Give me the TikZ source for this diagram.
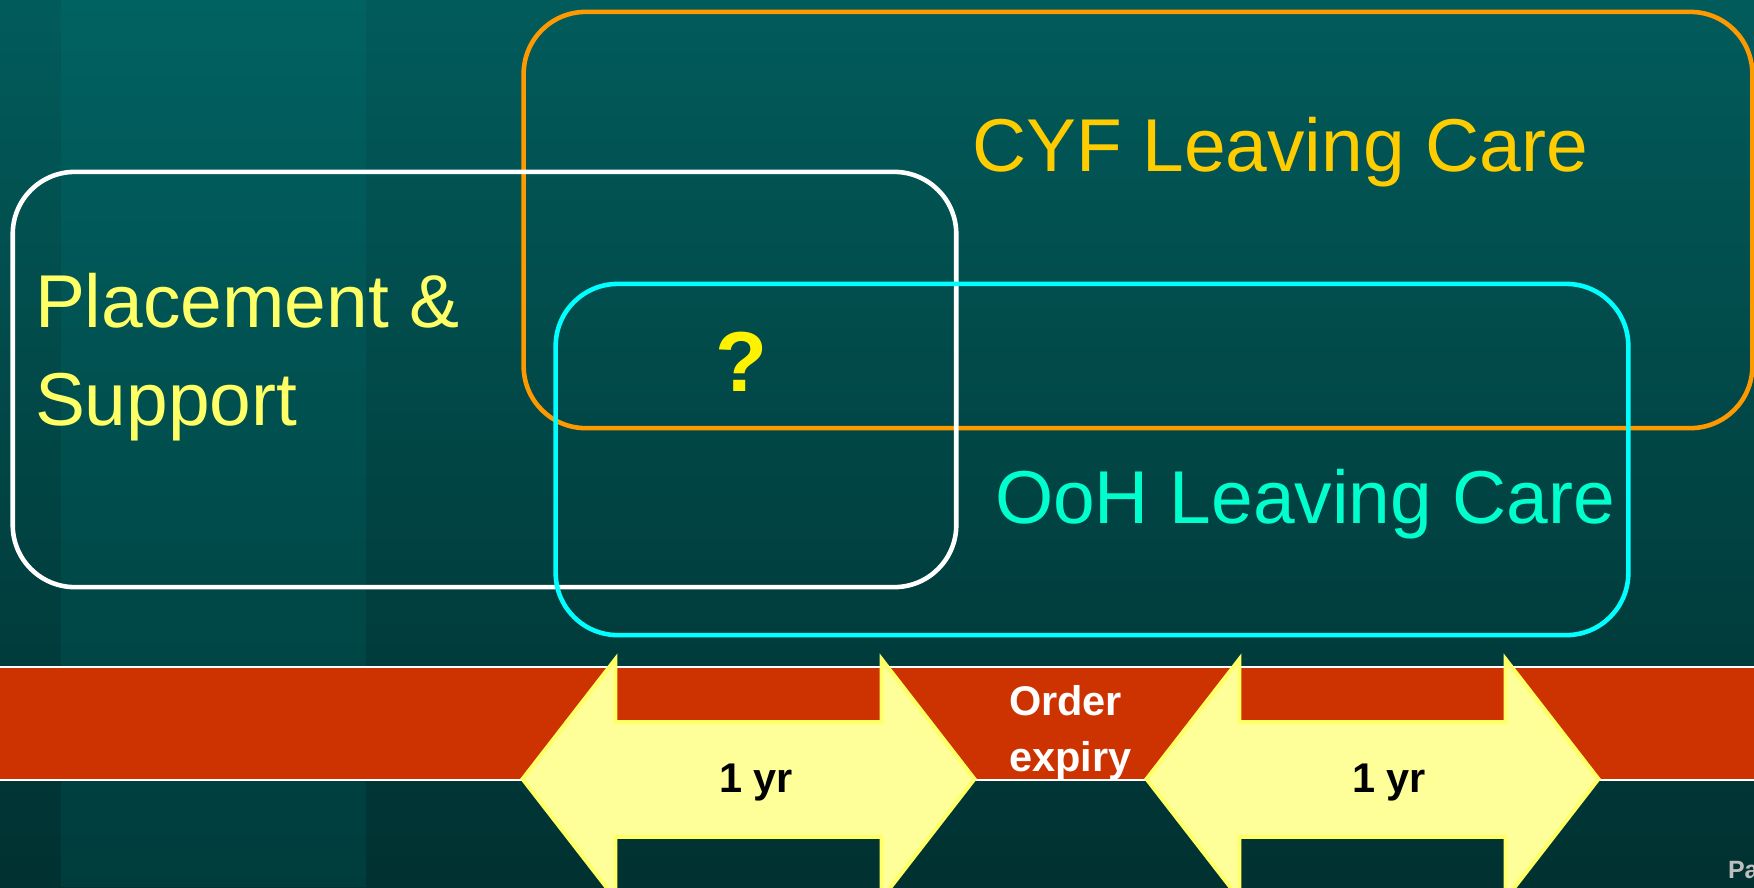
\documentclass[tikz,border=0pt]{standalone}
\usepackage{fontspec}
\setmainfont{Liberation Sans}
\usepackage{xcolor}
\usepackage{tikz}

\definecolor{bgtop}{HTML}{025B5B}
\definecolor{bgbot}{HTML}{013131}
\definecolor{bgstripe}{HTML}{00A0A0}
\definecolor{bandred}{HTML}{CC3300}
\definecolor{cyforange}{HTML}{FF9900}
\definecolor{cyftext}{HTML}{FFCC00}
\definecolor{oohcyan}{HTML}{00FFFF}
\definecolor{oohtext}{HTML}{00FFCC}
\definecolor{plctext}{HTML}{FFFF66}
\definecolor{yrfill}{HTML}{FFFF99}
\definecolor{yrline}{HTML}{FFFF66}

\begin{document}
\begin{tikzpicture}[
    x=0.01cm, y=-0.01cm,
    every node/.style={inner sep=0pt, outer sep=0pt},
    carebox/.style={draw, line width=1.3pt, rounded corners=0.62cm},
    bigtext/.style={anchor=base west, font=\fontsize{21.3}{25}\selectfont},
    smallbold/.style={anchor=base west, font=\fontsize{11.8}{14}\selectfont\bfseries}
]

% Background with lighter stripe
\useasboundingbox (0,0) rectangle (1754,887);
\clip (0,0) rectangle (1754,887);
\shade[top color=bgtop, bottom color=bgbot] (0,0) rectangle (1754,887);
\fill[bgstripe, opacity=0.1] (61,0) rectangle (366,887);

% Timeline band
\fill[bandred] (0,668) rectangle (1754,780);
\draw[white, line width=0.6pt] (0,667) -- (1754,667) (0,780) -- (1754,780);

% Service boxes
\node[carebox, draw=cyforange, minimum width=12.28cm, minimum height=4.16cm] (cyf) at (1138,220) {};
\node[carebox, draw=white, minimum width=9.43cm, minimum height=4.15cm] (plc) at (484.5,379.5) {};
\node[carebox, draw=oohcyan, minimum width=10.72cm, minimum height=3.51cm] (ooh) at (1092,459.5) {};

% Box labels
\node[bigtext, text=cyftext] (cyflabel) at (972,171) {CYF Leaving Care};
\node[bigtext, text=plctext] (plclabelA) at (35,327) {Placement \&};
\node[bigtext, text=plctext] (plclabelB) at (35,425) {Support};
\node[bigtext, text=oohtext] (oohlabel) at (995,523) {OoH Leaving Care};
\node[font=\fontsize{24.2}{28}\selectfont\bfseries, text=yellow] (query) at (741,362) {?};

% One year arrows either side of order expiry
\foreach \cx/\tx/\nm in {748.5/719/yrA, 1372.5/1352/yrB} {
    \filldraw[fill=yrfill, draw=yrline, line width=1.1pt, line join=miter]
        (\cx-226,779) -- (\cx-133,659) -- (\cx-133,722) -- (\cx+133,722) -- (\cx+133,659)
        -- (\cx+226,779) -- (\cx+133,899) -- (\cx+133,837) -- (\cx-133,837) -- (\cx-133,899) -- cycle;
    \node[smallbold] (\nm) at (\tx,792) {1 yr};
}

\node[smallbold, text=white] (orderA) at (1009,715) {Order};
\node[smallbold, text=white] (orderB) at (1009,771) {expiry};

\node[anchor=base west, font=\fontsize{7.1}{8}\selectfont\bfseries, text=gray!50] (pagetag) at (1728,878) {Pa};

\end{tikzpicture}
\end{document}
